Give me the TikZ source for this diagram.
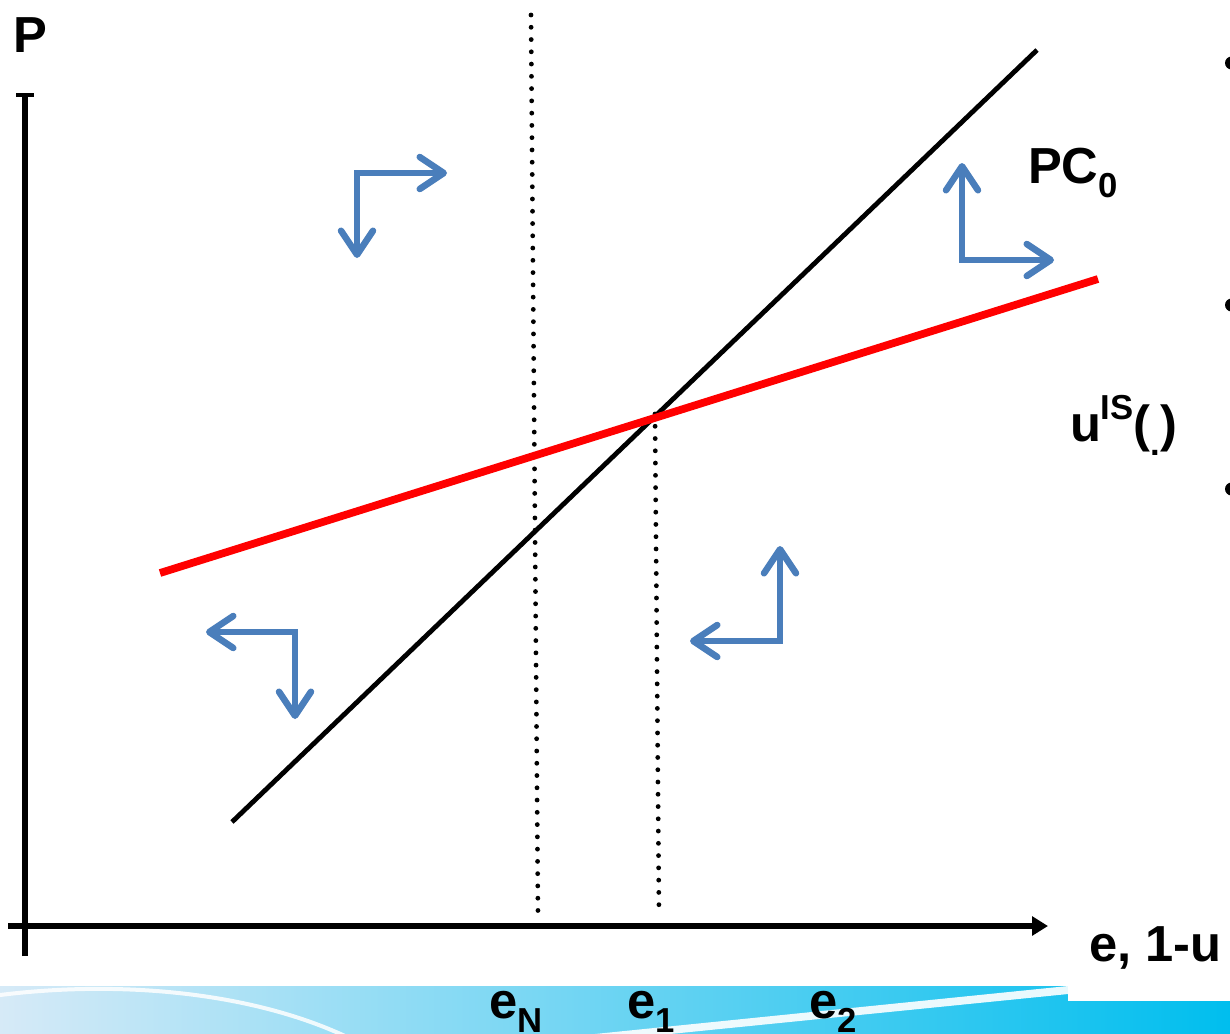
\documentclass[tikz,border=0pt]{standalone}
\usepackage{fontspec}
\setmainfont{Liberation Sans}
\usetikzlibrary{arrows.meta}
\definecolor{arrowblue}{RGB}{74,126,187}
\definecolor{bandleft}{RGB}{214,234,247}
\definecolor{bandmid}{RGB}{128,204,238}
\definecolor{bandright}{RGB}{0,190,238}
\newcommand\lowsub[1]{\raisebox{-0.28em}{\fontsize{26}{26}\selectfont #1}}
\newcommand\highsup[1]{\raisebox{0.42em}{\fontsize{26}{26}\selectfont #1}}
\begin{document}
\begin{tikzpicture}[x=0.75pt,y=-0.75pt,
  lbl/.style={font=\fontsize{38}{42}\selectfont\bfseries, inner sep=0pt, outer sep=0pt, anchor=base west},
  axisline/.style={line width=3.9pt},
  curve/.style={line width=3.6pt},
  isline/.style={red, line width=5.8pt},
  dots/.style={line width=3.6pt, line cap=round, dash pattern=on 0pt off 9.2pt},
  barb/.tip={Straight Barb[round, length=18pt, width=24pt]},
  dirarrow/.style={arrowblue, line width=4.9pt, line join=miter, barb-barb}]
\useasboundingbox (0,0) rectangle (1230,1033);
\clip (0,0) rectangle (1230,1033);
\fill[white] (0,0) rectangle (1230,1033);

% bottom band
\shade[left color=bandleft, middle color=bandmid, right color=bandright] (0,986) rectangle (1230,1033);
\draw[white, line width=3pt, opacity=0.85] (0,995) .. controls (120,980) and (250,992) .. (345,1036);
\fill[white, opacity=0.9] (585,1035) -- (1068,986) -- (1068,994) -- (660,1035) -- cycle;
\fill[white] (1068,986) rectangle (1230,1001);

% bullets at the right edge
\fill (1231.5,63) circle (6.5);
\fill (1231.5,305) circle (6.5);
\fill (1231.5,489) circle (6.5);

% axes
\coordinate (ytop) at (25,95);
\coordinate (ybot) at (25,956);
\coordinate (tickl) at (16,95);
\coordinate (tickr) at (34,95);
\coordinate (xl) at (8,926);
\coordinate (xr) at (1048,926);
\draw[axisline] (ybot) -- (ytop);
\draw[line width=2.4pt] (tickl) -- (tickr);
\draw[axisline, -{Triangle[length=12pt, width=14pt]}] (xl) -- (xr);

% dotted verticals
\coordinate (dNtop) at (531,15);
\coordinate (dNbot) at (538,916);
\coordinate (d1top) at (655,414);
\coordinate (d1bot) at (659,916);
\draw[dots] (dNtop) -- (dNbot);
\draw[dots] (d1top) -- (d1bot);

% curves
\coordinate (pcA) at (232,822);
\coordinate (pcB) at (1037,50);
\draw[curve] (pcA) -- (pcB);
\coordinate (isA) at (160,573);
\coordinate (isB) at (1098,279);
\draw[isline] (isA) -- (isB);

% direction arrows
\coordinate (c1) at (357,173);
\coordinate (c1r) at (447,173);
\coordinate (c1d) at (357,258);
\draw[dirarrow] (c1d) -- (c1) -- (c1r);

\coordinate (c2) at (295,632);
\coordinate (c2l) at (206,632);
\coordinate (c2d) at (295,719);
\draw[dirarrow] (c2l) -- (c2) -- (c2d);

\coordinate (c3) at (780,641);
\coordinate (c3u) at (780,546);
\coordinate (c3l) at (690,641);
\draw[dirarrow] (c3l) -- (c3) -- (c3u);

\coordinate (c4) at (962,260);
\coordinate (c4u) at (962,163);
\coordinate (c4r) at (1054,260);
\draw[dirarrow] (c4u) -- (c4) -- (c4r);

% labels
\node[lbl] (P) at (13,52) {P};
\node[lbl] (PC) at (1028,183) {PC\lowsub{0}};
\node[lbl] (uIS) at (1070,441) {u\highsup{IS}(\lowsub{.})};
\node[lbl] (xlab) at (1089,961) {e, 1-u};
\node[lbl] (eN) at (489,1018) {e\lowsub{N}};
\node[lbl] (e1) at (627,1018) {e\lowsub{1}};
\node[lbl] (e2) at (809,1018) {e\lowsub{2}};
\end{tikzpicture}
\end{document}
